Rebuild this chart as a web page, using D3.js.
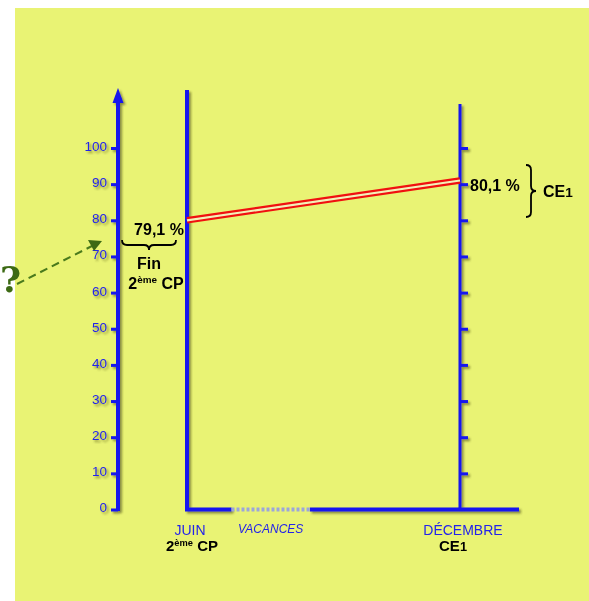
<!DOCTYPE html>
<html>
<head>
<meta charset="utf-8">
<title>79,1 % fin de CP, 80,1 % en CE1</title>
<style>
body { margin: 0; background: #fff; }
svg { display: block; font-family: "Liberation Sans", Arial, sans-serif; }
.tick text { font-size: 13.5px; fill: #2323ea; }
.bold { font-weight: bold; fill: #000; }
</style>
</head>
<body>
<svg width="589" height="601"></svg>
<script src="https://d3js.org/d3.v7.min.js"></script>
<script>
// data
var periods = ["JUIN", "DÉCEMBRE"];
var classes = ["2ème CP", "CE1"];
var scoreLabels = ["79,1 %", "80,1 %"];
var lineLevels = [80, 91];           // where the double line sits on the scale
var yTicks = [0, 10, 20, 30, 40, 50, 60, 70, 80, 90, 100];
var rightTicks = [10, 20, 30, 40, 50, 60, 70, 80, 90, 100];

var blue = "#1414ee";

var svg = d3.select("svg"),
    width = +svg.attr("width"),
    height = +svg.attr("height");

// yellow panel
svg.append("rect")
    .attr("x", 15).attr("y", 8)
    .attr("width", width - 15).attr("height", height - 8)
    .attr("fill", "#e9f374");

// drop shadow for the axes
var f = svg.append("defs").append("filter")
    .attr("id", "shadow")
    .attr("x", "-50%").attr("y", "-10%")
    .attr("width", "200%").attr("height", "120%");
f.append("feDropShadow")
    .attr("dx", 2).attr("dy", 2)
    .attr("stdDeviation", 0.9)
    .attr("flood-color", "#3a3a10")
    .attr("flood-opacity", 0.55);

var y = d3.scaleLinear().domain([0, 100]).range([509.5, 148]);
var x = d3.scalePoint().domain(periods).range([187, 460]);
var axisX = 118;
var baseY = y(0);

var axes = svg.append("g").attr("filter", "url(#shadow)");

// left value axis with arrow
var gl = axes.append("g")
    .attr("transform", "translate(" + axisX + ",0)")
    .call(d3.axisLeft(y).tickValues(yTicks).tickSize(7).tickPadding(4));
gl.select(".domain").remove();
gl.selectAll(".tick line").attr("stroke", blue).attr("stroke-width", 3);
gl.selectAll(".tick text").attr("dy", "0.18em");

axes.append("line")
    .attr("x1", axisX).attr("x2", axisX)
    .attr("y1", 100).attr("y2", baseY + 1.5)
    .attr("stroke", blue).attr("stroke-width", 4);
axes.append("path")
    .attr("d", "M" + (axisX - 5.5) + ",103L" + axisX + ",88L" + (axisX + 5.5) + ",103Z")
    .attr("fill", blue);

// JUIN vertical
axes.append("line")
    .attr("x1", x("JUIN")).attr("x2", x("JUIN"))
    .attr("y1", 90).attr("y2", baseY)
    .attr("stroke", blue).attr("stroke-width", 4);

// DÉCEMBRE vertical with ticks on the right
axes.append("line")
    .attr("x1", x("DÉCEMBRE")).attr("x2", x("DÉCEMBRE"))
    .attr("y1", 104).attr("y2", baseY)
    .attr("stroke", blue).attr("stroke-width", 3);
var gr = axes.append("g")
    .attr("transform", "translate(" + x("DÉCEMBRE") + ",0)")
    .call(d3.axisRight(y).tickValues(rightTicks).tickSize(8).tickFormat(""));
gr.select(".domain").remove();
gr.selectAll(".tick line").attr("stroke", blue).attr("stroke-width", 3);

// time axis, holidays drawn as hatched part
var span = x("DÉCEMBRE") - x("JUIN");
var vacStart = x("JUIN") + span * 0.163,
    vacEnd = x("JUIN") + span * 0.45;
axes.append("line")
    .attr("x1", x("JUIN") - 2).attr("x2", vacStart)
    .attr("y1", baseY).attr("y2", baseY)
    .attr("stroke", blue).attr("stroke-width", 4);
axes.append("line")
    .attr("x1", vacEnd).attr("x2", 519)
    .attr("y1", baseY).attr("y2", baseY)
    .attr("stroke", blue).attr("stroke-width", 4);
svg.append("line")
    .attr("x1", vacStart).attr("x2", vacEnd)
    .attr("y1", baseY).attr("y2", baseY)
    .attr("stroke", "#9ba6dc").attr("stroke-width", 4)
    .attr("stroke-dasharray", "3,2");

// double red line
var pts = periods.map(function(p, i) { return [x(p), y(lineLevels[i])]; });
var line = d3.line();
svg.append("path").attr("d", line(pts))
    .attr("stroke", "#f01010").attr("stroke-width", 6.5).attr("fill", "none");
svg.append("path").attr("d", line(pts))
    .attr("stroke", "#f3f0b8").attr("stroke-width", 2.2).attr("fill", "none");

// bottom labels
var bl = svg.append("g");
bl.selectAll(".per").data(periods).enter().append("text")
    .attr("x", function(d) { return x(d) + 3; })
    .attr("y", 535)
    .attr("text-anchor", "middle")
    .attr("fill", "#2323ea")
    .attr("font-size", 14)
    .text(function(d) { return d; });
svg.append("text")
    .attr("x", (vacStart + vacEnd) / 2).attr("y", 533)
    .attr("text-anchor", "middle")
    .attr("fill", "#2323ea")
    .attr("font-size", 12)
    .attr("font-style", "italic")
    .text("VACANCES");

function classLabel(g, txt, size) {
  if (txt.indexOf("ème") > 0) {
    g.append("tspan").text("2");
    g.append("tspan").attr("font-size", size * 0.62).attr("dy", -size * 0.35).text("ème");
    g.append("tspan").attr("dy", size * 0.35).text(" CP");
  } else {
    g.append("tspan").text("CE");
    g.append("tspan").attr("font-size", size * 0.85).text("1");
  }
}
classes.forEach(function(c, i) {
  var t = svg.append("text").attr("class", "bold")
      .attr("x", x(periods[i]) + (i == 0 ? 5 : -7)).attr("y", 551)
      .attr("text-anchor", "middle")
      .attr("font-size", 15);
  classLabel(t, c, 15);
});

// left annotation
svg.append("text").attr("class", "bold")
    .attr("x", 159).attr("y", 235)
    .attr("text-anchor", "middle").attr("font-size", 16)
    .text(scoreLabels[0]);
svg.append("path")
    .attr("d", "M122,240q0,5 5,5h17q5,0 5,5q0,-5 5,-5h17q5,0 5,-5")
    .attr("fill", "none").attr("stroke", "#000").attr("stroke-width", 1.8);
svg.append("text").attr("class", "bold")
    .attr("x", 149).attr("y", 269)
    .attr("text-anchor", "middle").attr("font-size", 16)
    .text("Fin");
var t2 = svg.append("text").attr("class", "bold")
    .attr("x", 156).attr("y", 289)
    .attr("text-anchor", "middle").attr("font-size", 16);
classLabel(t2, classes[0], 16);

// right annotation
svg.append("text").attr("class", "bold")
    .attr("x", 470).attr("y", 190.5)
    .attr("font-size", 16)
    .text(scoreLabels[1]);
svg.append("path")
    .attr("d", "M526,165q5,0 5,5v16q0,5 5,5q-5,0 -5,5v16q0,5 -5,5")
    .attr("fill", "none").attr("stroke", "#000").attr("stroke-width", 1.8);
var t3 = svg.append("text").attr("class", "bold")
    .attr("x", 543).attr("y", 197)
    .attr("font-size", 16);
classLabel(t3, classes[1], 16);

// question mark and dashed arrow
svg.append("text")
    .attr("x", 0).attr("y", 292)
    .attr("text-anchor", "start")
    .attr("font-family", "DejaVu Serif, serif")
    .attr("font-weight", "bold")
    .attr("font-size", 36)
    .attr("fill", "#3d6a14")
    .text("?");
var a0 = [17, 284], a1 = [92, 246];
svg.append("line")
    .attr("x1", a0[0]).attr("y1", a0[1]).attr("x2", a1[0]).attr("y2", a1[1])
    .attr("stroke", "#4a7a1c").attr("stroke-width", 2)
    .attr("stroke-dasharray", "8,5");
svg.append("path")
    .attr("d", "M102,241L88,240L94,251Z")
    .attr("fill", "#3d6a14");
</script>
</body>
</html>
